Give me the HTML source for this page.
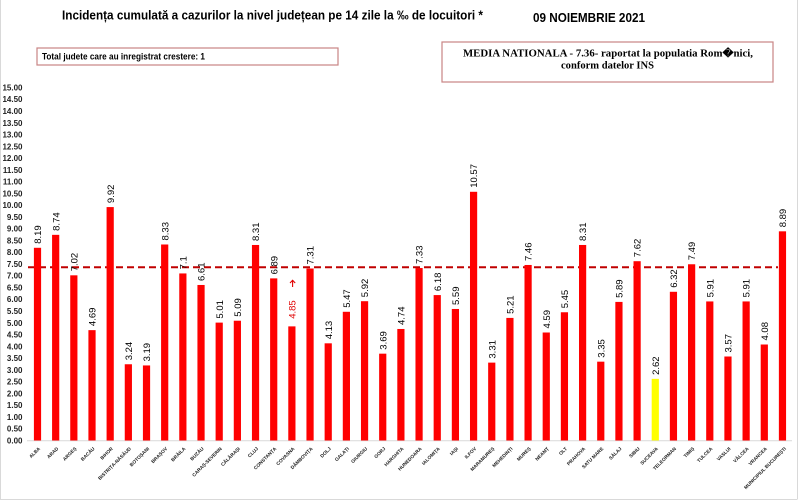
<!DOCTYPE html>
<html><head><meta charset="utf-8"><style>
html,body{margin:0;padding:0;background:#fff;}
svg{display:block;}
.yl{font-family:"Liberation Sans",sans-serif;font-size:8px;font-weight:bold;fill:#222;text-anchor:end;}
.vl{font-family:"Liberation Sans",sans-serif;font-size:9.5px;fill:#000;}
.xl{font-family:"Liberation Sans",sans-serif;font-size:4.8px;font-weight:bold;fill:#222;text-anchor:end;}
</style></head><body>
<svg width="800" height="501" viewBox="0 0 800 501" xmlns="http://www.w3.org/2000/svg">
<rect x="0" y="0" width="800" height="501" fill="#fff"/>
<line x1="0.5" y1="0" x2="0.5" y2="499.5" stroke="#d9d9d9" stroke-width="1"/>
<line x1="0" y1="499.5" x2="797" y2="499.5" stroke="#d9d9d9" stroke-width="1"/>
<line x1="797.5" y1="0" x2="797.5" y2="499.5" stroke="#d9d9d9" stroke-width="1"/>

<text x="62" y="19.5" font-family="Liberation Sans, sans-serif" font-size="13" font-weight="bold" fill="#000" textLength="421" lengthAdjust="spacingAndGlyphs">Incidența cumulată a cazurilor la nivel județean pe 14 zile la ‰ de locuitori *</text>
<text x="533" y="22" font-family="Liberation Sans, sans-serif" font-size="13" font-weight="bold" fill="#000" textLength="112" lengthAdjust="spacingAndGlyphs">09 NOIEMBRIE 2021</text>

<rect x="37" y="48" width="301" height="17" fill="#fff" stroke="#c98484" stroke-width="1.2"/>
<text x="42" y="59.3" font-family="Liberation Sans, sans-serif" font-size="9.5" font-weight="bold" fill="#000" textLength="163" lengthAdjust="spacingAndGlyphs">Total judete care au inregistrat crestere: 1</text>

<rect x="442" y="42" width="331" height="40" fill="#fff" stroke="#c98484" stroke-width="1.2"/>
<text x="463" y="56.7" font-family="Liberation Serif, serif" font-size="10" font-weight="bold" fill="#000" textLength="290" lengthAdjust="spacingAndGlyphs">MEDIA NATIONALA - 7.36-  raportat la populatia Rom�nici,</text>
<text x="561" y="68.3" font-family="Liberation Serif, serif" font-size="10" font-weight="bold" fill="#000" textLength="93" lengthAdjust="spacingAndGlyphs">conform datelor INS</text>

<g>
<text class="yl" x="22.5" y="443.4">0.00</text>
<text class="yl" x="22.5" y="431.6">0.50</text>
<text class="yl" x="22.5" y="419.9">1.00</text>
<text class="yl" x="22.5" y="408.1">1.50</text>
<text class="yl" x="22.5" y="396.3">2.00</text>
<text class="yl" x="22.5" y="384.6">2.50</text>
<text class="yl" x="22.5" y="372.8">3.00</text>
<text class="yl" x="22.5" y="361.1">3.50</text>
<text class="yl" x="22.5" y="349.3">4.00</text>
<text class="yl" x="22.5" y="337.5">4.50</text>
<text class="yl" x="22.5" y="325.8">5.00</text>
<text class="yl" x="22.5" y="314.0">5.50</text>
<text class="yl" x="22.5" y="302.2">6.00</text>
<text class="yl" x="22.5" y="290.5">6.50</text>
<text class="yl" x="22.5" y="278.7">7.00</text>
<text class="yl" x="22.5" y="266.9">7.50</text>
<text class="yl" x="22.5" y="255.2">8.00</text>
<text class="yl" x="22.5" y="243.4">8.50</text>
<text class="yl" x="22.5" y="231.6">9.00</text>
<text class="yl" x="22.5" y="219.9">9.50</text>
<text class="yl" x="22.5" y="208.1">10.00</text>
<text class="yl" x="22.5" y="196.3">10.50</text>
<text class="yl" x="22.5" y="184.6">11.00</text>
<text class="yl" x="22.5" y="172.8">11.50</text>
<text class="yl" x="22.5" y="161.1">12.00</text>
<text class="yl" x="22.5" y="149.3">12.50</text>
<text class="yl" x="22.5" y="137.5">13.00</text>
<text class="yl" x="22.5" y="125.8">13.50</text>
<text class="yl" x="22.5" y="114.0">14.00</text>
<text class="yl" x="22.5" y="102.2">14.50</text>
<text class="yl" x="22.5" y="90.5">15.00</text>
</g>

<line x1="27" y1="440.8" x2="792" y2="440.8" stroke="#d9d9d9" stroke-width="1"/>

<line x1="28" y1="267.3" x2="778" y2="267.3" stroke="#c00000" stroke-width="2" stroke-dasharray="7,4"/>

<g fill="#ff0000">
<rect x="33.9" y="247.79" width="7.2" height="192.71"/>
<rect x="52.07" y="234.85" width="7.2" height="205.65"/>
<rect x="70.24" y="275.32" width="7.2" height="165.18"/>
<rect x="88.41" y="330.14" width="7.2" height="110.36"/>
<rect x="106.58" y="207.08" width="7.2" height="233.42"/>
<rect x="124.75" y="364.26" width="7.2" height="76.24"/>
<rect x="142.92" y="365.44" width="7.2" height="75.06"/>
<rect x="161.09" y="244.49" width="7.2" height="196.01"/>
<rect x="179.26" y="273.44" width="7.2" height="167.06"/>
<rect x="197.43" y="284.97" width="7.2" height="155.53"/>
<rect x="215.6" y="322.61" width="7.2" height="117.89"/>
<rect x="233.77" y="320.73" width="7.2" height="119.77"/>
<rect x="251.94" y="244.97" width="7.2" height="195.53"/>
<rect x="270.11" y="278.38" width="7.2" height="162.12"/>
<rect x="288.28" y="326.38" width="7.2" height="114.12"/>
<rect x="306.45" y="268.5" width="7.2" height="172.0"/>
<rect x="324.62" y="343.32" width="7.2" height="97.18"/>
<rect x="342.79" y="311.79" width="7.2" height="128.71"/>
<rect x="360.96" y="301.2" width="7.2" height="139.3"/>
<rect x="379.13" y="353.67" width="7.2" height="86.83"/>
<rect x="397.3" y="328.97" width="7.2" height="111.53"/>
<rect x="415.47" y="268.03" width="7.2" height="172.47"/>
<rect x="433.64" y="295.08" width="7.2" height="145.42"/>
<rect x="451.81" y="308.97" width="7.2" height="131.53"/>
<rect x="469.98" y="191.79" width="7.2" height="248.71"/>
<rect x="488.15" y="362.62" width="7.2" height="77.88"/>
<rect x="506.32" y="317.91" width="7.2" height="122.59"/>
<rect x="524.49" y="264.97" width="7.2" height="175.53"/>
<rect x="542.66" y="332.5" width="7.2" height="108.0"/>
<rect x="560.83" y="312.26" width="7.2" height="128.24"/>
<rect x="579.0" y="244.97" width="7.2" height="195.53"/>
<rect x="597.17" y="361.67" width="7.2" height="78.83"/>
<rect x="615.34" y="301.91" width="7.2" height="138.59"/>
<rect x="633.51" y="261.2" width="7.2" height="179.3"/>
<rect x="651.68" y="378.85" width="7.2" height="61.65" fill="#ffff00"/>
<rect x="669.85" y="291.79" width="7.2" height="148.71"/>
<rect x="688.02" y="264.26" width="7.2" height="176.24"/>
<rect x="706.19" y="301.44" width="7.2" height="139.06"/>
<rect x="724.36" y="356.5" width="7.2" height="84.0"/>
<rect x="742.53" y="301.44" width="7.2" height="139.06"/>
<rect x="760.7" y="344.5" width="7.2" height="96.0"/>
<rect x="778.87" y="231.32" width="7.2" height="209.18"/>
</g>

<g class="vl">
<text class="vl" transform="translate(41.1,243.8) rotate(-90)">8.19</text>
<text class="vl" transform="translate(59.27,230.85) rotate(-90)">8.74</text>
<text class="vl" transform="translate(77.44,271.3) rotate(-90)">7.02</text>
<text class="vl" transform="translate(95.61,326.1) rotate(-90)">4.69</text>
<text class="vl" transform="translate(113.78,203.1) rotate(-90)">9.92</text>
<text class="vl" transform="translate(131.95,360.3) rotate(-90)">3.24</text>
<text class="vl" transform="translate(150.12,361.4) rotate(-90)">3.19</text>
<text class="vl" transform="translate(168.29,240.5) rotate(-90)">8.33</text>
<text class="vl" transform="translate(186.46,269.4) rotate(-90)">7.1</text>
<text class="vl" transform="translate(204.63,281.0) rotate(-90)">6.61</text>
<text class="vl" transform="translate(222.8,318.6) rotate(-90)">5.01</text>
<text class="vl" transform="translate(240.97,316.7) rotate(-90)">5.09</text>
<text class="vl" transform="translate(259.14,241.0) rotate(-90)">8.31</text>
<text class="vl" transform="translate(277.31,274.4) rotate(-90)">6.89</text>
<text class="vl" transform="translate(295.48,318.8) rotate(-90)" style="fill:#e00000">4.85</text>
<text class="vl" transform="translate(313.65,264.5) rotate(-90)">7.31</text>
<text class="vl" transform="translate(331.82,339.3) rotate(-90)">4.13</text>
<text class="vl" transform="translate(349.99,307.8) rotate(-90)">5.47</text>
<text class="vl" transform="translate(368.16,297.2) rotate(-90)">5.92</text>
<text class="vl" transform="translate(386.33,349.7) rotate(-90)">3.69</text>
<text class="vl" transform="translate(404.5,325.0) rotate(-90)">4.74</text>
<text class="vl" transform="translate(422.67,264.0) rotate(-90)">7.33</text>
<text class="vl" transform="translate(440.84,291.1) rotate(-90)">6.18</text>
<text class="vl" transform="translate(459.01,305.0) rotate(-90)">5.59</text>
<text class="vl" transform="translate(477.18,187.8) rotate(-90)">10.57</text>
<text class="vl" transform="translate(495.35,358.6) rotate(-90)">3.31</text>
<text class="vl" transform="translate(513.52,313.9) rotate(-90)">5.21</text>
<text class="vl" transform="translate(531.69,261.0) rotate(-90)">7.46</text>
<text class="vl" transform="translate(549.86,328.5) rotate(-90)">4.59</text>
<text class="vl" transform="translate(568.03,308.3) rotate(-90)">5.45</text>
<text class="vl" transform="translate(586.2,241.0) rotate(-90)">8.31</text>
<text class="vl" transform="translate(604.37,357.7) rotate(-90)">3.35</text>
<text class="vl" transform="translate(622.54,297.9) rotate(-90)">5.89</text>
<text class="vl" transform="translate(640.71,257.2) rotate(-90)">7.62</text>
<text class="vl" transform="translate(658.88,374.9) rotate(-90)">2.62</text>
<text class="vl" transform="translate(677.05,287.8) rotate(-90)">6.32</text>
<text class="vl" transform="translate(695.22,260.3) rotate(-90)">7.49</text>
<text class="vl" transform="translate(713.39,297.4) rotate(-90)">5.91</text>
<text class="vl" transform="translate(731.56,352.5) rotate(-90)">3.57</text>
<text class="vl" transform="translate(749.73,297.4) rotate(-90)">5.91</text>
<text class="vl" transform="translate(767.9,340.5) rotate(-90)">4.08</text>
<text class="vl" transform="translate(786.07,227.3) rotate(-90)">8.89</text>
</g>

<g stroke="#e00000" stroke-width="1.1" fill="none">
<line x1="292.6" y1="287" x2="292.6" y2="280.3"/>
<polyline points="290,283 292.6,280.3 295.2,283"/>
</g>

<g>
<text class="xl" transform="translate(40.5,449) rotate(-45)">ALBA</text>
<text class="xl" transform="translate(58.67,449) rotate(-45)">ARAD</text>
<text class="xl" transform="translate(76.84,449) rotate(-45)">ARGEȘ</text>
<text class="xl" transform="translate(95.01,449) rotate(-45)">BACĂU</text>
<text class="xl" transform="translate(113.18,449) rotate(-45)">BIHOR</text>
<text class="xl" transform="translate(131.35,449) rotate(-45)">BISTRIȚA-NĂSĂUD</text>
<text class="xl" transform="translate(149.52,449) rotate(-45)">BOTOȘANI</text>
<text class="xl" transform="translate(167.69,449) rotate(-45)">BRAȘOV</text>
<text class="xl" transform="translate(185.86,449) rotate(-45)">BRĂILA</text>
<text class="xl" transform="translate(204.03,449) rotate(-45)">BUZĂU</text>
<text class="xl" transform="translate(222.2,449) rotate(-45)">CARAȘ-SEVERIN</text>
<text class="xl" transform="translate(240.37,449) rotate(-45)">CĂLĂRAȘI</text>
<text class="xl" transform="translate(258.54,449) rotate(-45)">CLUJ</text>
<text class="xl" transform="translate(276.71,449) rotate(-45)">CONSTANȚA</text>
<text class="xl" transform="translate(294.88,449) rotate(-45)">COVASNA</text>
<text class="xl" transform="translate(313.05,449) rotate(-45)">DÂMBOVIȚA</text>
<text class="xl" transform="translate(331.22,449) rotate(-45)">DOLJ</text>
<text class="xl" transform="translate(349.39,449) rotate(-45)">GALAȚI</text>
<text class="xl" transform="translate(367.56,449) rotate(-45)">GIURGIU</text>
<text class="xl" transform="translate(385.73,449) rotate(-45)">GORJ</text>
<text class="xl" transform="translate(403.9,449) rotate(-45)">HARGHITA</text>
<text class="xl" transform="translate(422.07,449) rotate(-45)">HUNEDOARA</text>
<text class="xl" transform="translate(440.24,449) rotate(-45)">IALOMIȚA</text>
<text class="xl" transform="translate(458.41,449) rotate(-45)">IAȘI</text>
<text class="xl" transform="translate(476.58,449) rotate(-45)">ILFOV</text>
<text class="xl" transform="translate(494.75,449) rotate(-45)">MARAMUREȘ</text>
<text class="xl" transform="translate(512.92,449) rotate(-45)">MEHEDINȚI</text>
<text class="xl" transform="translate(531.09,449) rotate(-45)">MUREȘ</text>
<text class="xl" transform="translate(549.26,449) rotate(-45)">NEAMȚ</text>
<text class="xl" transform="translate(567.43,449) rotate(-45)">OLT</text>
<text class="xl" transform="translate(585.6,449) rotate(-45)">PRAHOVA</text>
<text class="xl" transform="translate(603.77,449) rotate(-45)">SATU MARE</text>
<text class="xl" transform="translate(621.94,449) rotate(-45)">SĂLAJ</text>
<text class="xl" transform="translate(640.11,449) rotate(-45)">SIBIU</text>
<text class="xl" transform="translate(658.28,449) rotate(-45)">SUCEAVA</text>
<text class="xl" transform="translate(676.45,449) rotate(-45)">TELEORMAN</text>
<text class="xl" transform="translate(694.62,449) rotate(-45)">TIMIȘ</text>
<text class="xl" transform="translate(712.79,449) rotate(-45)">TULCEA</text>
<text class="xl" transform="translate(730.96,449) rotate(-45)">VASLUI</text>
<text class="xl" transform="translate(749.13,449) rotate(-45)">VÂLCEA</text>
<text class="xl" transform="translate(767.3,449) rotate(-45)">VRANCEA</text>
<text class="xl" transform="translate(786.47,449) rotate(-45)">MUNICIPIUL BUCUREȘTI</text>
</g>
</svg>
</body></html>
